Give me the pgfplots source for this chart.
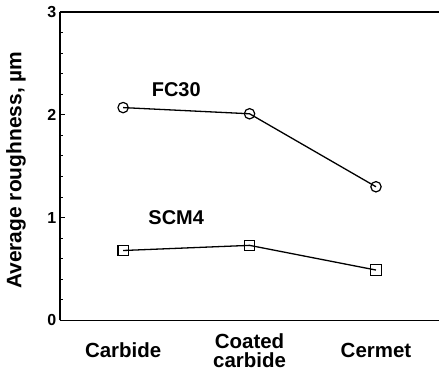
\documentclass[border=0pt]{standalone}
\usepackage{fontspec}
\setmainfont{Liberation Sans}
\usepackage{pgfplots}
\pgfplotsset{compat=1.18}
\begin{document}
\begin{tikzpicture}
\begin{axis}[
 scale only axis, width=380pt, height=309pt,
 xmin=-0.5, xmax=2.5, ymin=0, ymax=3,
 axis x line=box, axis y line=left,
 axis line style={-, line width=1.6pt},
 xtick={0,1,2}, xticklabels={Carbide, {Coated\\carbide}, Cermet},
 xtick style={draw=none},
 xticklabel style={align=center, anchor=center, yshift=-30pt, font=\fontsize{20.5}{19}\selectfont\bfseries},
 ytick={0,1,2,3}, minor y tick num=4,
 tick align=inside,
 major tick length=5pt, minor tick length=3pt,
 y tick style={line width=1pt, black},
 yticklabel style={font=\fontsize{16}{18}\selectfont\bfseries},
 /pgf/number format/assume math mode=true,
 ylabel={Average roughness, µm},
 ylabel style={font=\fontsize{21}{24}\selectfont\bfseries, at={(axis description cs:-0.116,0.487)}, anchor=center},
 clip=false,
]
\addplot[black, line width=1.3pt, mark=o, mark size=5.2pt, mark options={fill=white, line width=1.2pt}] coordinates {(0,2.07) (1,2.01) (2,1.30)};
\addplot[black, line width=1.3pt, mark=square, mark size=5.2pt, mark options={fill=white, line width=1.2pt}] coordinates {(0,0.68) (1,0.73) (2,0.49)};
\node[font=\fontsize{20}{22}\selectfont\bfseries] at (axis cs:0.42,2.24) {FC30};
\node[font=\fontsize{20}{22}\selectfont\bfseries] at (axis cs:0.42,1.0) {SCM4};
\end{axis}
\path (current axis.south west) ++(-60pt,-51pt);
\path (current axis.north east) ++(0pt,12pt);
\end{tikzpicture}
\end{document}
